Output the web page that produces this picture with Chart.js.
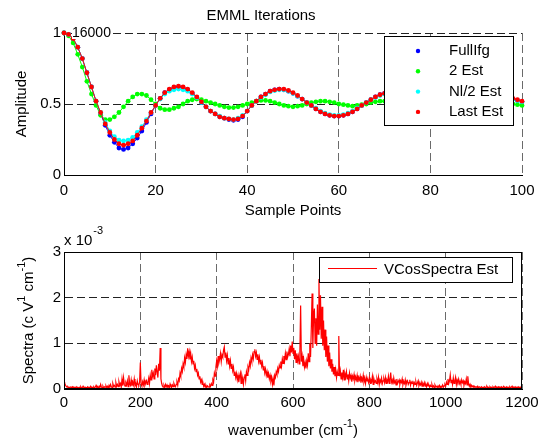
<!DOCTYPE html>
<html>
<head>
<meta charset="utf-8">
<script src="https://cdn.jsdelivr.net/npm/chart.js@4/dist/chart.umd.min.js"></script>
<style>
  html, body { margin: 0; padding: 0; background: #fff; }
  #wrap { position: relative; width: 547px; height: 441px; overflow: hidden; background: #fff; }
  #emml { position: absolute; left: 0; top: 0; }
  #spec { position: absolute; left: 0; top: 222px; }
</style>
</head>
<body>
<div id="wrap">
  <canvas id="emml" width="547" height="222"></canvas>
  <canvas id="spec" width="547" height="219"></canvas>
</div>
<script>
// ---- EMML iteration estimates (amplitude per sample point) ----
const samplePoints = Array.from({ length: 101 }, (_, i) => i);

const fullIfg = [
  1.00, 0.99, 0.96, 0.90, 0.82, 0.72, 0.62, 0.52, 0.43, 0.35,
  0.28, 0.23, 0.19, 0.18, 0.19, 0.22, 0.26, 0.31, 0.37, 0.43,
  0.49, 0.54, 0.58, 0.60, 0.615, 0.62, 0.615, 0.60, 0.575, 0.545,
  0.51, 0.48, 0.45, 0.43, 0.41, 0.40, 0.39, 0.385, 0.39, 0.41,
  0.45, 0.49, 0.52, 0.55, 0.57, 0.59, 0.60, 0.605, 0.60, 0.59,
  0.575, 0.555, 0.535, 0.51, 0.49, 0.465, 0.445, 0.43, 0.42, 0.415,
  0.415, 0.42, 0.43, 0.445, 0.465, 0.49, 0.51, 0.53, 0.55, 0.565,
  0.575, 0.58, 0.58, 0.575, 0.565, 0.55, 0.53, 0.51, 0.49, 0.47,
  0.455, 0.445, 0.44, 0.44, 0.445, 0.455, 0.47, 0.485, 0.50, 0.515,
  0.53, 0.54, 0.55, 0.555, 0.555, 0.555, 0.55, 0.545, 0.535, 0.525,
  0.515
];

const est2 = [
  1.00, 0.98, 0.93, 0.85, 0.76, 0.66, 0.57, 0.49, 0.42, 0.39,
  0.39, 0.41, 0.44, 0.48, 0.52, 0.55, 0.57, 0.57, 0.56, 0.53,
  0.50, 0.47, 0.46, 0.46, 0.47, 0.48, 0.50, 0.52, 0.53, 0.535,
  0.53, 0.52, 0.51, 0.50, 0.49, 0.48, 0.475, 0.475, 0.48, 0.49,
  0.50, 0.51, 0.52, 0.525, 0.525, 0.52, 0.51, 0.50, 0.49, 0.485,
  0.48, 0.485, 0.49, 0.50, 0.51, 0.515, 0.52, 0.52, 0.515, 0.51,
  0.50, 0.495, 0.49, 0.485, 0.49, 0.495, 0.50, 0.51, 0.515, 0.52,
  0.52, 0.52, 0.515, 0.51, 0.50, 0.495, 0.49, 0.49, 0.49, 0.495,
  0.50, 0.505, 0.51, 0.515, 0.515, 0.51, 0.505, 0.50, 0.495, 0.49,
  0.49, 0.49, 0.495, 0.50, 0.505, 0.51, 0.51, 0.505, 0.50, 0.495,
  0.49
];

const estHalf = [
  1.00, 0.99, 0.96, 0.90, 0.82, 0.72, 0.62, 0.52, 0.44, 0.37,
  0.31, 0.27, 0.245, 0.24, 0.245, 0.265, 0.30, 0.34, 0.39, 0.44,
  0.49, 0.535, 0.57, 0.59, 0.60, 0.605, 0.60, 0.59, 0.57, 0.545,
  0.51, 0.48, 0.45, 0.43, 0.415, 0.40, 0.395, 0.39, 0.40, 0.42,
  0.45, 0.49, 0.52, 0.545, 0.565, 0.585, 0.595, 0.60, 0.60, 0.59,
  0.575, 0.555, 0.535, 0.51, 0.49, 0.47, 0.45, 0.435, 0.425, 0.42,
  0.42, 0.425, 0.435, 0.45, 0.47, 0.49, 0.51, 0.53, 0.545, 0.56,
  0.57, 0.575, 0.575, 0.57, 0.56, 0.545, 0.53, 0.51, 0.49, 0.475,
  0.46, 0.45, 0.445, 0.445, 0.45, 0.46, 0.47, 0.485, 0.50, 0.515,
  0.525, 0.535, 0.545, 0.55, 0.55, 0.55, 0.545, 0.54, 0.535, 0.525,
  0.515
];

const estLast = [
  1.00, 0.99, 0.96, 0.90, 0.82, 0.72, 0.62, 0.52, 0.44, 0.36,
  0.30, 0.25, 0.22, 0.21, 0.22, 0.24, 0.28, 0.33, 0.38, 0.44,
  0.49, 0.54, 0.58, 0.605, 0.62, 0.625, 0.62, 0.605, 0.58, 0.55,
  0.515, 0.48, 0.45, 0.43, 0.41, 0.40, 0.395, 0.39, 0.395, 0.415,
  0.45, 0.49, 0.52, 0.55, 0.57, 0.59, 0.60, 0.605, 0.605, 0.595,
  0.58, 0.56, 0.535, 0.51, 0.49, 0.465, 0.445, 0.43, 0.42, 0.415,
  0.415, 0.42, 0.43, 0.445, 0.465, 0.49, 0.51, 0.53, 0.55, 0.565,
  0.575, 0.58, 0.58, 0.575, 0.565, 0.55, 0.53, 0.51, 0.49, 0.47,
  0.455, 0.445, 0.44, 0.44, 0.445, 0.455, 0.47, 0.485, 0.50, 0.515,
  0.53, 0.54, 0.55, 0.555, 0.555, 0.555, 0.55, 0.545, 0.54, 0.53,
  0.52
];

const ampTicks = [0, 0.5, 1];
const sampleTicks = [0, 20, 40, 60, 80, 100];
const cornerNote = '16000';

// ---- Cosine spectrum estimate, in units of 1e-3, every 2 cm^-1 ----
const wavenumbers = Array.from({ length: 601 }, (_, i) => i * 2);
const spectraMilli = [
  0.15, 0.12, 0.08, 0.06, 0.04, 0.05, 0.03, 0.04, 0.02, 0.04,
  0.03, 0.05, 0.02, 0.04, 0.03, 0.02, 0.05, 0.03, 0.04, 0.02,
  0.04, 0.03, 0.05, 0.02, 0.03, 0.06, 0.03, 0.02, 0.04, 0.03,
  0.02, 0.05, 0.03, 0.04, 0.02, 0.06, 0.03, 0.04, 0.02, 0.05,
  0.03, 0.04, 0.08, 0.03, 0.05, 0.02, 0.06, 0.03, 0.10, 0.04,
  0.03, 0.06, 0.02, 0.05, 0.04, 0.07, 0.03, 0.06, 0.02, 0.08,
  0.04, 0.10, 0.05, 0.03, 0.12, 0.06, 0.08, 0.04, 0.14, 0.06,
  0.10, 0.05, 0.16, 0.08, 0.12, 0.04, 0.22, 0.07, 0.25, 0.10,
  0.06, 0.14, 0.09, 0.18, 0.05, 0.30, 0.12, 0.08, 0.20, 0.06,
  0.15, 0.09, 0.22, 0.07, 0.12, 0.05, 0.18, 0.10, 0.08, 0.14,
  0.58, 0.10, 0.06, 0.16, 0.09, 0.20, 0.08, 0.13, 0.18, 0.10,
  0.15, 0.24, 0.12, 0.30, 0.20, 0.42, 0.28, 0.35, 0.22, 0.45,
  0.30, 0.52, 0.38, 0.25, 0.55, 0.40, 0.90, 0.22, 0.12, 0.06,
  0.04, 0.08, 0.03, 0.10, 0.05, 0.09, 0.04, 0.07, 0.03, 0.11,
  0.06, 0.04, 0.09, 0.05, 0.12, 0.07, 0.05, 0.10, 0.15, 0.08,
  0.22, 0.18, 0.35, 0.28, 0.45, 0.38, 0.55, 0.48, 0.68, 0.58,
  0.75, 0.66, 0.89, 0.72, 0.82, 0.65, 0.78, 0.60, 0.70, 0.55,
  0.62, 0.45, 0.52, 0.38, 0.44, 0.30, 0.35, 0.22, 0.28, 0.15,
  0.20, 0.10, 0.14, 0.06, 0.10, 0.04, 0.08, 0.03, 0.07, 0.05,
  0.04, 0.09, 0.06, 0.12, 0.08, 0.20, 0.15, 0.35, 0.28, 0.48,
  0.62, 0.50, 0.72, 0.58, 0.66, 0.78, 0.60, 0.75, 0.70, 0.85,
  0.92, 0.70, 0.80, 0.62, 0.74, 0.55, 0.68, 0.50, 0.62, 0.45,
  0.55, 0.40, 0.48, 0.30, 0.38, 0.25, 0.34, 0.20, 0.30, 0.15,
  0.28, 0.35, 0.12, 0.30, 0.22, 0.10, 0.26, 0.32, 0.18, 0.38,
  0.30, 0.48, 0.42, 0.58, 0.50, 0.68, 0.60, 0.75, 0.66, 0.82,
  0.87, 0.72, 0.80, 0.65, 0.76, 0.60, 0.70, 0.55, 0.64, 0.50,
  0.58, 0.42, 0.50, 0.35, 0.44, 0.30, 0.38, 0.25, 0.34, 0.22,
  0.30, 0.18, 0.26, 0.10, 0.22, 0.08, 0.30, 0.25, 0.38, 0.32,
  0.45, 0.38, 0.52, 0.46, 0.60, 0.50, 0.66, 0.56, 0.72, 0.62,
  0.78, 0.64, 0.82, 0.70, 0.76, 0.88, 0.72, 0.95, 0.80, 1.04,
  0.78, 0.90, 0.65, 0.85, 0.58, 0.78, 0.62, 0.72, 0.55, 0.80,
  1.83, 0.60, 0.72, 0.50, 0.65, 0.48, 0.58, 0.45, 0.62, 0.52,
  0.78, 0.60, 1.00, 0.70, 1.35, 2.09, 0.90, 1.60, 1.76, 1.00,
  1.55, 0.95, 1.85, 1.20, 2.41, 1.30, 2.05, 1.10, 1.80, 0.95,
  1.50, 0.85, 1.30, 0.70, 1.15, 0.60, 0.95, 0.50, 0.80, 0.45,
  0.65, 0.38, 0.55, 0.32, 0.48, 0.28, 0.42, 0.25, 0.38, 0.30,
  1.16, 0.28, 0.40, 0.22, 0.36, 0.25, 0.42, 0.20, 0.34, 0.26,
  0.38, 0.22, 0.32, 0.18, 0.35, 0.24, 0.30, 0.16, 0.28, 0.22,
  0.32, 0.18, 0.26, 0.20, 0.30, 0.15, 0.25, 0.20, 0.28, 0.14,
  0.24, 0.18, 0.30, 0.15, 0.22, 0.12, 0.26, 0.18, 0.20, 0.14,
  0.25, 0.12, 0.20, 0.16, 0.28, 0.10, 0.22, 0.15, 0.18, 0.12,
  0.22, 0.14, 0.26, 0.10, 0.20, 0.15, 0.24, 0.12, 0.18, 0.22,
  0.14, 0.25, 0.12, 0.20, 0.16, 0.28, 0.12, 0.22, 0.36, 0.15,
  0.20, 0.10, 0.24, 0.14, 0.18, 0.09, 0.22, 0.12, 0.16, 0.20,
  0.10, 0.18, 0.14, 0.22, 0.09, 0.16, 0.12, 0.20, 0.08, 0.15,
  0.18, 0.10, 0.14, 0.20, 0.08, 0.15, 0.12, 0.18, 0.07, 0.14,
  0.10, 0.16, 0.08, 0.13, 0.18, 0.07, 0.12, 0.09, 0.15, 0.06,
  0.12, 0.08, 0.14, 0.06, 0.10, 0.05, 0.12, 0.07, 0.09, 0.04,
  0.08, 0.05, 0.10, 0.04, 0.07, 0.03, 0.09, 0.05, 0.06, 0.03,
  0.07, 0.04, 0.08, 0.03, 0.06, 0.05, 0.09, 0.04, 0.07, 0.10,
  0.06, 0.15, 0.10, 0.22, 0.12, 0.18, 0.31, 0.14, 0.20, 0.10,
  0.24, 0.12, 0.18, 0.26, 0.10, 0.20, 0.15, 0.22, 0.12, 0.17,
  0.10, 0.20, 0.14, 0.18, 0.08, 0.16, 0.12, 0.22, 0.09, 0.28,
  0.12, 0.06, 0.10, 0.04, 0.08, 0.05, 0.07, 0.03, 0.06, 0.04,
  0.05, 0.03, 0.06, 0.02, 0.05, 0.04, 0.03, 0.05, 0.02, 0.04,
  0.03, 0.05, 0.02, 0.04, 0.06, 0.03, 0.04, 0.02, 0.05, 0.03,
  0.04, 0.02, 0.05, 0.03, 0.04, 0.06, 0.02, 0.04, 0.03, 0.05,
  0.02, 0.04, 0.03, 0.05, 0.02, 0.04, 0.06, 0.03, 0.04, 0.02,
  0.05, 0.03, 0.04, 0.02, 0.05, 0.03, 0.04, 0.06, 0.02, 0.04,
  0.03, 0.05, 0.02, 0.04, 0.03, 0.05, 0.02, 0.04, 0.03, 0.05,
  0.04
];
const spectraTicks = [0, 1, 2, 3];
const wavenumberTicks = [0, 200, 400, 600, 800, 1000, 1200];

// ---- shared styling ----
const FONT = "'Liberation Sans', Arial, Helvetica, sans-serif";
Chart.defaults.font.family = FONT;
Chart.defaults.font.size = 15;
Chart.defaults.color = '#000';

const GRID_DASH = [8, 4];

function seriesOf(label, values, color, order) {
  return {
    label,
    data: samplePoints.map((s, i) => ({ x: s, y: values[i] })),
    borderColor: color,
    backgroundColor: color,
    pointBackgroundColor: color,
    pointBorderWidth: 0,
    pointRadius: 2.4,
    pointHoverRadius: 2.4,
    borderWidth: 1,
    tension: 0,
    order,
    clip: false
  };
}

// draws a run of text pieces, some raised as superscripts, centred on (x, y)
function drawRich(ctx, parts, x, y, rotate) {
  ctx.save();
  ctx.translate(x, y);
  if (rotate) ctx.rotate(-Math.PI / 2);
  ctx.textBaseline = 'middle';
  ctx.textAlign = 'left';
  let total = 0;
  parts.forEach(p => {
    ctx.font = (p.sup ? '11px ' : '15px ') + FONT;
    p.w = ctx.measureText(p.t).width;
    total += p.w;
  });
  let cx = -total / 2;
  parts.forEach(p => {
    ctx.font = (p.sup ? '11px ' : '15px ') + FONT;
    ctx.fillStyle = '#000';
    ctx.fillText(p.t, cx, p.sup ? -7 : 0);
    cx += p.w;
  });
  ctx.restore();
}

// ---- top panel decorations: corner note and boxed legend ----
const emmlDecor = {
  id: 'emmlDecor',
  afterDraw(chart) {
    const { ctx, chartArea: ca } = chart;
    ctx.save();
    ctx.font = '14px ' + FONT;
    ctx.textBaseline = 'middle';
    ctx.textAlign = 'left';
    const w = ctx.measureText(cornerNote).width;
    ctx.fillStyle = '#fff';
    ctx.fillRect(ca.left + 8, ca.top - 6, w + 1, 12);
    ctx.fillStyle = '#000';
    ctx.fillText(cornerNote, ca.left + 8, ca.top + 0.5);

    const bx = Math.round(ca.right) - 138, by = Math.round(ca.top) + 3, bw = 129, bh = 89;
    ctx.fillStyle = '#fff';
    ctx.fillRect(bx, by, bw, bh);
    ctx.strokeStyle = '#000';
    ctx.lineWidth = 1;
    ctx.strokeRect(bx + 0.5, by + 0.5, bw, bh);
    ctx.font = '15px ' + FONT;
    chart.data.datasets.forEach((ds, i) => {
      const y = by + 15 + i * 20.3;
      ctx.fillStyle = ds.borderColor;
      ctx.beginPath();
      ctx.arc(bx + 34, y, 2.2, 0, Math.PI * 2);
      ctx.fill();
      ctx.fillStyle = '#000';
      ctx.fillText(ds.label, bx + 65, y);
    });
    ctx.restore();
  }
};

new Chart(document.getElementById('emml'), {
  type: 'line',
  data: {
    datasets: [
      seriesOf('FullIfg', fullIfg, '#0000ff', 4),
      seriesOf('2 Est', est2, '#00ff00', 3),
      seriesOf('Nl/2 Est', estHalf, '#00ffff', 2),
      seriesOf('Last Est', estLast, '#ff0000', 1)
    ]
  },
  options: {
    responsive: false,
    animation: false,
    events: [],
    layout: { padding: { left: 0, right: 25, top: 0, bottom: 0 } },
    plugins: {
      legend: { display: false },
      tooltip: { enabled: false },
      title: {
        display: true,
        text: 'EMML Iterations',
        color: '#000',
        font: { size: 15, weight: 'normal' },
        padding: { top: 7, bottom: 8 }
      }
    },
    scales: {
      x: {
        type: 'linear',
        min: 0, max: 100,
        afterBuildTicks: s => { s.ticks = sampleTicks.map(v => ({ value: v })); },
        ticks: { padding: 7, maxRotation: 0, color: '#000', callback: v => String(v) },
        grid: { drawTicks: false, color: '#6a6a6a', lineWidth: 1 },
        border: { display: true, color: '#000', width: 1, dash: GRID_DASH },
        title: { display: true, text: 'Sample Points', color: '#000', padding: { top: 0, bottom: 2 } },
        afterFit: s => { s.height = 47; }
      },
      y: {
        type: 'linear',
        min: 0, max: 1,
        afterBuildTicks: s => { s.ticks = ampTicks.map(v => ({ value: v })); },
        ticks: { padding: 3, color: '#000', callback: v => String(v) },
        grid: { drawTicks: false, color: '#222', lineWidth: 1 },
        border: { display: true, color: '#000', width: 1, dash: GRID_DASH },
        title: { display: true, text: 'Amplitude', color: '#000', padding: { top: 13, bottom: 0 } },
        afterFit: s => { s.width = 64; }
      }
    }
  },
  plugins: [emmlDecor]
});

// ---- bottom panel decorations: frame, exponent, axis titles, legend ----
const specDecor = {
  id: 'specDecor',
  afterDraw(chart) {
    const { ctx, chartArea: ca } = chart;
    ctx.save();
    ctx.strokeStyle = '#000';
    ctx.lineWidth = 1;
    ctx.strokeRect(Math.round(ca.left) + 0.5, Math.round(ca.top) + 0.5,
                   Math.round(ca.right - ca.left) - 1, Math.round(ca.bottom - ca.top) - 1);

    // axis multiplier
    ctx.textBaseline = 'alphabetic';
    ctx.textAlign = 'left';
    ctx.font = '15px ' + FONT;
    ctx.fillStyle = '#000';
    const base = 'x 10';
    ctx.fillText(base, ca.left, ca.top - 7);
    const bw = ctx.measureText(base).width;
    ctx.font = '11px ' + FONT;
    ctx.fillText('-3', ca.left + bw + 1, ca.top - 18);

    // axis titles
    drawRich(ctx, [{ t: 'wavenumber (cm' }, { t: '-1', sup: true }, { t: ')' }],
             (ca.left + ca.right) / 2, ca.bottom + 42, false);
    drawRich(ctx, [{ t: 'Spectra (c V' }, { t: '1', sup: true }, { t: ' cm' }, { t: '-1', sup: true }, { t: ')' }],
             29, (ca.top + ca.bottom) / 2, true);

    // legend
    const lx = Math.round(ca.right) - 203, ly = Math.round(ca.top) + 5, lw = 193, lh = 25;
    ctx.fillStyle = '#fff';
    ctx.fillRect(lx, ly, lw, lh);
    ctx.strokeStyle = '#000';
    ctx.strokeRect(lx + 0.5, ly + 0.5, lw, lh);
    const ds = chart.data.datasets[0];
    ctx.strokeStyle = ds.borderColor;
    ctx.beginPath();
    ctx.moveTo(lx + 9, ly + 11.5);
    ctx.lineTo(lx + 58, ly + 11.5);
    ctx.stroke();
    ctx.fillStyle = '#000';
    ctx.font = '15px ' + FONT;
    ctx.textBaseline = 'middle';
    ctx.fillText(ds.label, lx + 65, ly + 12.5);
    ctx.restore();
  }
};

new Chart(document.getElementById('spec'), {
  type: 'line',
  data: {
    datasets: [{
      label: 'VCosSpectra Est',
      data: wavenumbers.map((w, i) => ({ x: w, y: spectraMilli[i] })),
      borderColor: '#ff0000',
      backgroundColor: '#ff0000',
      borderWidth: 1.2,
      pointRadius: 0,
      tension: 0
    }]
  },
  options: {
    responsive: false,
    animation: false,
    events: [],
    layout: { padding: { left: 0, right: 25, top: 30, bottom: 0 } },
    plugins: { legend: { display: false }, tooltip: { enabled: false }, title: { display: false } },
    scales: {
      x: {
        type: 'linear',
        min: 0, max: 1200,
        afterBuildTicks: s => { s.ticks = wavenumberTicks.map(v => ({ value: v })); },
        ticks: { padding: 5, maxRotation: 0, color: '#000', callback: v => String(v) },
        grid: { drawTicks: false, color: '#6a6a6a', lineWidth: 1 },
        border: { display: true, color: '#000', width: 1, dash: GRID_DASH },
        afterFit: s => { s.height = 52; }
      },
      y: {
        type: 'linear',
        min: 0, max: 3,
        afterBuildTicks: s => { s.ticks = spectraTicks.map(v => ({ value: v })); },
        ticks: { padding: 3, color: '#000', callback: v => String(v) },
        grid: { drawTicks: false, color: '#222', lineWidth: 1 },
        border: { display: true, color: '#000', width: 1, dash: GRID_DASH },
        afterFit: s => { s.width = 64; }
      }
    }
  },
  plugins: [specDecor]
});
</script>
</body>
</html>
